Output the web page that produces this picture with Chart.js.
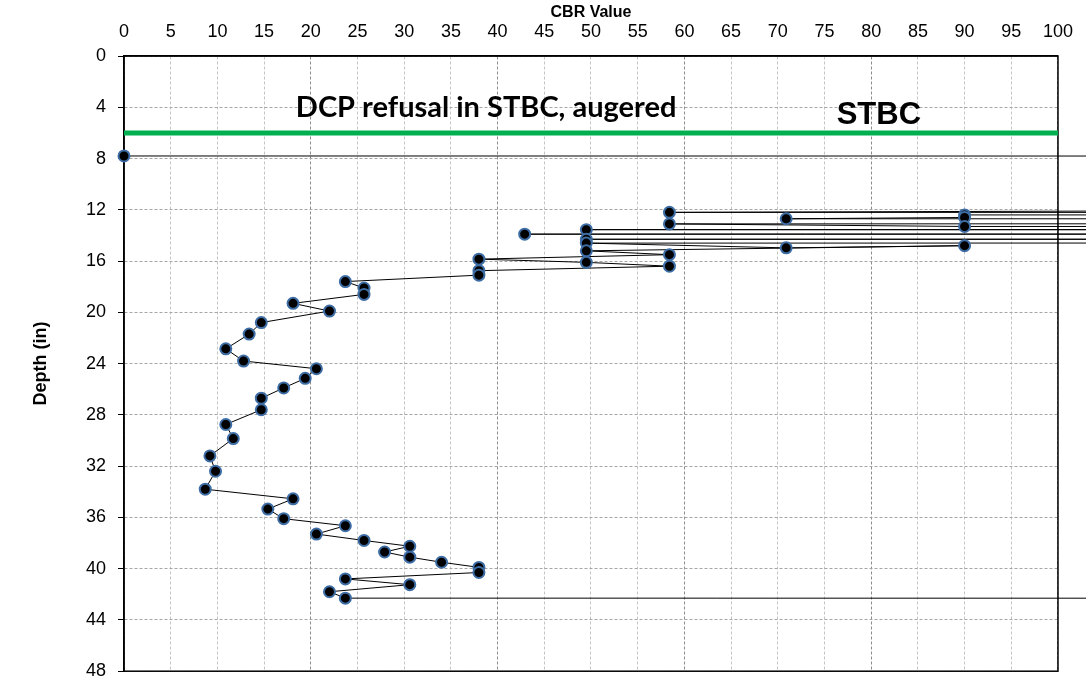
<!DOCTYPE html>
<html lang="en">
<head>
  <meta charset="UTF-8">
  <title>CBR Value vs Depth</title>
  <script src="https://cdn.jsdelivr.net/npm/chart.js"></script>
  <style>
    body { margin: 0; background: #fff; }
    #wrap { width: 1086px; height: 694px; }
  </style>
</head>
<body>
  <div id="wrap"><canvas id="cbrChart" width="1086" height="694"></canvas></div>

  <script>
    // DCP readings, in test order (values far past 100 are the refusal readings)
    const cbrValue = [0, 2000, 58.4, 2000, 90, 90, 70.9, 2000, 58.4, 90, 2000, 49.5, 2000, 42.9, 2000, 49.5, 2000, 49.5,
      70.9, 90, 49.5, 58.4, 38.0, 49.5, 58.4, 38.0, 38.0, 23.7, 25.7, 25.7, 18.1, 22.0, 14.7, 13.4, 10.9, 12.8,
      20.6, 19.4, 17.1, 14.7, 14.7, 10.9, 11.7, 9.2, 9.8, 8.7, 18.1, 15.4, 17.1, 23.7, 20.6, 25.7, 30.6, 27.9,
      30.6, 34.0, 38.0, 38.0, 23.7, 30.6, 22.0, 23.7, 2000];
    const depthIn = [7.8, 7.9, 12.2, 12.3, 12.4, 12.6, 12.7, 12.8, 13.1, 13.3, 13.4, 13.55, 13.7, 13.9, 14.0, 14.3, 14.4, 14.6,
      14.97, 14.8, 15.2, 15.5, 15.85, 16.1, 16.4, 16.75, 17.1, 17.6, 18.1, 18.6, 19.3, 19.9, 20.8, 21.7, 22.85, 23.8,
      24.4, 25.15, 25.9, 26.7, 27.6, 28.75, 29.85, 31.2, 32.4, 33.8, 34.55, 35.35, 36.1, 36.65, 37.3, 37.8, 38.25, 38.7,
      39.1, 39.5, 39.9, 40.3, 40.8, 41.25, 41.8, 42.3, 42.4];

    // top of STBC layer
    const stbcX = [0, 100];
    const stbcDepth = [6, 6];

    const xTicks = { min: 0, max: 100, step: 5 };
    const yTicks = { min: 0, max: 48, step: 4 };

    const FONT = "'Liberation Sans', Arial, sans-serif";

    const frame = {
      id: 'frame',
      beforeDatasetsDraw(chart) {
        const { ctx, chartArea: a } = chart;
        ctx.save();
        ctx.strokeStyle = '#000';
        ctx.lineWidth = 1.5;
        ctx.strokeRect(a.left, a.top, a.right - a.left, a.bottom - a.top);
        ctx.restore();
      },
      afterDatasetsDraw(chart) {
        const { ctx, scales: { x, y } } = chart;
        ctx.save();
        ctx.fillStyle = '#000';
        ctx.textBaseline = 'alphabetic';
        ctx.font = "bold 29px Lato, 'Open Sans', sans-serif";
        ctx.fillText('DCP refusal in STBC, augered', x.getPixelForValue(18.4), y.getPixelForValue(4.75));
        ctx.font = 'bold 31px ' + FONT;
        ctx.fillText('STBC', x.getPixelForValue(76.3), y.getPixelForValue(5.3));
        ctx.restore();
      }
    };

    new Chart(document.getElementById('cbrChart').getContext('2d'), {
      type: 'scatter',
      data: {
        datasets: [
          {
            label: 'STBC',
            data: stbcX.map((v, i) => ({ x: v, y: stbcDepth[i] })),
            showLine: true,
            borderColor: '#00b050',
            borderWidth: 5,
            pointRadius: 0
          },
          {
            label: 'CBR',
            data: cbrValue.map((v, i) => ({ x: v, y: depthIn[i] })),
            showLine: true,
            borderColor: '#000',
            borderWidth: 1,
            pointRadius: 5.5,
            pointBackgroundColor: '#000',
            pointBorderColor: '#3d6da4',
            pointBorderWidth: 2,
            clip: { left: 8, top: 8, right: false, bottom: 8 }
          }
        ]
      },
      options: {
        responsive: false,
        animation: false,
        devicePixelRatio: 1,
        layout: { padding: { left: 0, right: 24, top: 0, bottom: 14 } },
        scales: {
          x: {
            type: 'linear',
            position: 'top',
            min: xTicks.min,
            max: xTicks.max,
            afterFit: (s) => { s.height = 56; },
            ticks: { stepSize: xTicks.step, color: '#000', font: { family: FONT, size: 18 }, padding: 13 },
            grid: {
              color: (c) => (c.tick && c.tick.value % 20 === 0) ? '#8c8c8c' : '#c4c4c4',
              lineWidth: 1,
              drawTicks: false
            },
            border: { color: '#000', width: 1.5, dash: [3, 2] },
            title: { display: true, text: 'CBR Value', color: '#000', font: { family: FONT, size: 16, weight: 'bold' }, padding: { top: 3, bottom: 0 } }
          },
          y: {
            type: 'linear',
            reverse: true,
            min: yTicks.min,
            max: yTicks.max,
            afterFit: (s) => { s.width = 124; },
            ticks: { stepSize: yTicks.step, color: '#000', font: { family: FONT, size: 18 }, padding: 12 },
            grid: { color: '#a6a6a6', lineWidth: 1, tickLength: 6, tickColor: '#000' },
            border: { color: '#000', width: 1.5, dash: [3, 2] },
            title: { display: true, text: 'Depth (in)', color: '#000', font: { family: FONT, size: 18, weight: 'bold' }, padding: { top: 30, bottom: 0 } }
          }
        },
        plugins: {
          legend: { display: false },
          tooltip: { enabled: false }
        }
      },
      plugins: [frame]
    });
  </script>
</body>
</html>
